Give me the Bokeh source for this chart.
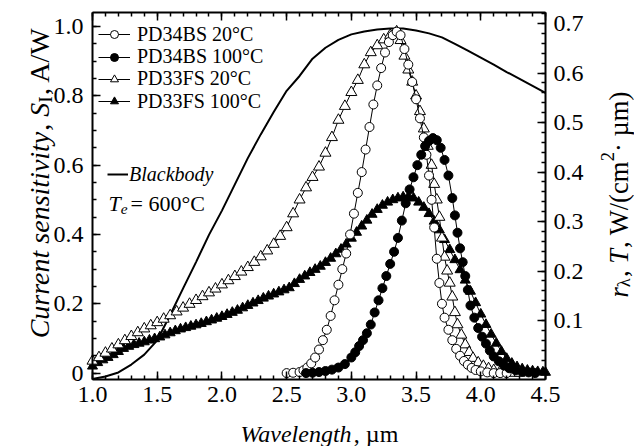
from math import pi
import numpy as np
from bokeh.plotting import figure
from bokeh.models import (Range1d, LinearAxis, FixedTicker, Label, Legend, LegendItem,
                          PrintfTickFormatter)
from bokeh.embed import file_html
from bokeh.resources import INLINE

# ---------------- data ----------------
x_ticks = [1.0, 1.5, 2.0, 2.5, 3.0, 3.5, 4.0, 4.5]
y_left_ticks = [0.0, 0.2, 0.4, 0.6, 0.8, 1.0]
y_right_ticks = [0.1, 0.2, 0.3, 0.4, 0.5, 0.6, 0.7]

# PD34BS 20 C (open circles)
bs20_x = [2.50, 2.55, 2.60, 2.63, 2.66, 2.69, 2.72, 2.75, 2.78, 2.81, 2.84, 2.87, 2.90, 2.93, 2.96,
          2.99, 3.02, 3.05, 3.08, 3.11, 3.14, 3.17, 3.20, 3.23, 3.26, 3.29, 3.32, 3.35, 3.38, 3.41,
          3.44, 3.47, 3.50, 3.53, 3.56, 3.58, 3.60, 3.62, 3.64, 3.66, 3.68, 3.70, 3.72, 3.75, 3.78,
          3.81, 3.84, 3.87, 3.90, 3.93, 3.96, 4.00, 4.05, 4.10, 4.15, 4.20]
bs20_y = [0.000, 0.001, 0.003, 0.008, 0.016, 0.028, 0.045, 0.068, 0.095, 0.125, 0.165, 0.210, 0.255, 0.300, 0.345,
          0.400, 0.460, 0.520, 0.580, 0.645, 0.710, 0.775, 0.830, 0.880, 0.925, 0.955, 0.975, 0.985, 0.975, 0.935,
          0.890, 0.840, 0.790, 0.735, 0.680, 0.630, 0.570, 0.500, 0.420, 0.330, 0.260, 0.200, 0.160, 0.125, 0.095,
          0.070, 0.050, 0.035, 0.024, 0.015, 0.009, 0.005, 0.002, 0.000, 0.000, 0.000]

# PD34BS 100 C (filled circles)
bs100_x = [2.65, 2.70, 2.75, 2.80, 2.85, 2.90, 2.95, 3.00, 3.03, 3.06, 3.09, 3.12, 3.15, 3.18, 3.21,
           3.24, 3.27, 3.30, 3.33, 3.36, 3.39, 3.42, 3.45, 3.48, 3.51, 3.54, 3.57, 3.60, 3.63, 3.66,
           3.69, 3.72, 3.75, 3.78, 3.80, 3.82, 3.84, 3.86, 3.88, 3.90, 3.92, 3.95, 3.98, 4.01, 4.04,
           4.07, 4.10, 4.14, 4.18, 4.22, 4.27, 4.32, 4.37, 4.42]
bs100_y = [0.000, 0.001, 0.003, 0.006, 0.010, 0.016, 0.026, 0.045, 0.060, 0.078, 0.095, 0.115, 0.140, 0.175, 0.210,
           0.245, 0.280, 0.315, 0.350, 0.390, 0.440, 0.490, 0.530, 0.565, 0.600, 0.630, 0.655, 0.670, 0.678, 0.672,
           0.650, 0.615, 0.570, 0.505, 0.455, 0.405, 0.360, 0.320, 0.280, 0.240, 0.195, 0.160, 0.130, 0.105, 0.085,
           0.065, 0.048, 0.034, 0.022, 0.014, 0.008, 0.004, 0.002, 0.000]

# PD33FS 20 C (open triangles)
fs20_x = [1.00, 1.05, 1.10, 1.15, 1.20, 1.25, 1.30, 1.35, 1.40, 1.45, 1.50, 1.55, 1.60, 1.65, 1.70,
          1.75, 1.80, 1.85, 1.90, 1.95, 2.00, 2.05, 2.10, 2.15, 2.20, 2.25, 2.30, 2.35, 2.40, 2.45,
          2.50, 2.55, 2.60, 2.65, 2.70, 2.75, 2.80, 2.85, 2.90, 2.95, 3.00, 3.05, 3.10, 3.15, 3.20,
          3.25, 3.30, 3.35, 3.38, 3.41, 3.44, 3.47, 3.50, 3.53, 3.56, 3.59, 3.62, 3.64, 3.66, 3.68,
          3.70, 3.72, 3.74, 3.76, 3.78, 3.80, 3.82, 3.85, 3.88, 3.91, 3.94, 3.98, 4.02, 4.06, 4.10,
          4.15, 4.20, 4.25, 4.30]
fs20_y = [0.035, 0.045, 0.058, 0.070, 0.082, 0.094, 0.106, 0.117, 0.128, 0.137, 0.146, 0.156, 0.166, 0.177, 0.188,
          0.199, 0.210, 0.221, 0.232, 0.243, 0.255, 0.267, 0.279, 0.292, 0.305, 0.320, 0.336, 0.353, 0.372, 0.395,
          0.420, 0.460, 0.500, 0.535, 0.565, 0.595, 0.635, 0.680, 0.730, 0.770, 0.810, 0.845, 0.890, 0.925, 0.945,
          0.962, 0.975, 0.985, 0.960, 0.915, 0.875, 0.840, 0.800, 0.755, 0.705, 0.655, 0.600, 0.545, 0.500, 0.450,
          0.390, 0.335, 0.295, 0.260, 0.220, 0.175, 0.140, 0.110, 0.082, 0.060, 0.043, 0.030, 0.020, 0.013, 0.008,
          0.005, 0.002, 0.000, 0.000]

# PD33FS 100 C (filled triangles)
fs100_x = [1.00, 1.04, 1.08, 1.12, 1.16, 1.20, 1.24, 1.28, 1.32, 1.36, 1.40, 1.44, 1.48, 1.52, 1.56,
           1.60, 1.64, 1.68, 1.72, 1.76, 1.80, 1.84, 1.88, 1.92, 1.96, 2.00, 2.04, 2.08, 2.12, 2.16,
           2.20, 2.24, 2.28, 2.32, 2.36, 2.40, 2.44, 2.48, 2.52, 2.56, 2.60, 2.64, 2.68, 2.72, 2.76,
           2.80, 2.84, 2.88, 2.92, 2.96, 3.00, 3.04, 3.08, 3.12, 3.16, 3.20, 3.24, 3.28, 3.32, 3.36,
           3.40, 3.44, 3.48, 3.52, 3.56, 3.60, 3.64, 3.68, 3.72, 3.76, 3.80, 3.84, 3.88, 3.92, 3.96,
           4.00, 4.04, 4.08, 4.12, 4.16, 4.20, 4.24, 4.28, 4.32, 4.36, 4.40, 4.44, 4.48, 4.50]
fs100_y = [0.020, 0.030, 0.038, 0.045, 0.053, 0.062, 0.071, 0.077, 0.082, 0.086, 0.090, 0.095, 0.099, 0.104, 0.110,
           0.116, 0.122, 0.127, 0.131, 0.135, 0.139, 0.143, 0.148, 0.153, 0.158, 0.163, 0.169, 0.175, 0.181, 0.188,
           0.195, 0.202, 0.209, 0.216, 0.222, 0.228, 0.234, 0.240, 0.246, 0.258, 0.270, 0.280, 0.290, 0.299, 0.308,
           0.319, 0.331, 0.344, 0.357, 0.372, 0.389, 0.406, 0.424, 0.441, 0.458, 0.472, 0.484, 0.493, 0.500, 0.505,
           0.508, 0.509, 0.505, 0.493, 0.478, 0.460, 0.438, 0.413, 0.385, 0.356, 0.327, 0.298, 0.268, 0.236, 0.203,
           0.170, 0.140, 0.112, 0.086, 0.062, 0.042, 0.028, 0.018, 0.012, 0.008, 0.006, 0.004, 0.003, 0.002]

# Blackbody, Te = 600 C (right axis)
bb_x = [1.0, 1.1, 1.2, 1.3, 1.4, 1.5, 1.6, 1.7, 1.8, 1.9, 2.0, 2.1, 2.2, 2.3, 2.4, 2.5, 2.6, 2.7,
        2.8, 2.9, 3.0, 3.1, 3.2, 3.3, 3.4, 3.5, 3.6, 3.7, 3.8, 3.9, 4.0, 4.1, 4.2, 4.3, 4.4, 4.5]
bb_y = [-0.018, -0.013, -0.005, 0.011, 0.031, 0.060, 0.111, 0.165, 0.218, 0.273, 0.322, 0.375, 0.428,
        0.476, 0.521, 0.564, 0.594, 0.629, 0.651, 0.667, 0.678, 0.684, 0.688, 0.690, 0.690, 0.686,
        0.680, 0.672, 0.659, 0.645, 0.631, 0.617, 0.602, 0.588, 0.574, 0.560]

# ---------------- layout (picture pixels) ----------------
W, H = 634, 446            # figure fills the window
PX_L, PX_R = 92, 545       # x of 1.0 and 4.5
PY_S0, PY_S1 = 372.6, 26   # y of S=0 and S=1
PY_R07, R_PX = 23, 495     # y of r=0.7, pixels per unit (right)
BOX_T, BOX_B = 12, 379     # box top / bottom

kx = 3.5 / (PX_R - PX_L)
ky = 1.0 / (PY_S0 - PY_S1)
kr = 1.0 / R_PX
x_start = 1.0 - PX_L * kx
x_end = 4.5 + (W - PX_R) * kx
y_start = -(H - PY_S0) * ky
y_end = 1.0 + PY_S1 * ky
r_start = 0.7 - (H - PY_R07) * kr
r_end = 0.7 + PY_R07 * kr
s_bot = (PY_S0 - BOX_B) * ky
s_top = (PY_S0 - BOX_T) * ky
r_bot = 0.7 - (BOX_B - PY_R07) * kr
r_top = 0.7 + (PY_R07 - BOX_T) * kr

FONT = "Liberation Serif"
TICK_FS = "24px"

p = figure(width=W, height=H, x_range=Range1d(x_start, x_end), y_range=Range1d(y_start, y_end),
           output_backend="svg", toolbar_location=None, min_border=0,
           x_axis_location=None, y_axis_location=None)
p.extra_y_ranges = {"bb": Range1d(r_start, r_end)}
p.grid.visible = False
p.outline_line_color = None
p.background_fill_color = "white"
p.border_fill_color = "white"


def make_axis(ticker, fixed, bounds, standoff, fmt=None, y_range_name="default", show_labels=True):
    ax = LinearAxis(ticker=ticker, fixed_location=fixed, bounds=bounds, y_range_name=y_range_name)
    ax.axis_line_width = 2
    ax.axis_line_color = "black"
    ax.major_tick_in = 8
    ax.major_tick_out = 0
    ax.minor_tick_in = 4
    ax.minor_tick_out = 0
    ax.major_tick_line_width = 1.5
    ax.minor_tick_line_width = 1.5
    ax.major_tick_line_color = "black"
    ax.minor_tick_line_color = "black"
    ax.major_label_text_font = FONT
    ax.major_label_text_font_size = TICK_FS
    ax.major_label_text_color = "black"
    ax.major_label_standoff = standoff
    ax.axis_label = None
    if fmt is not None:
        ax.formatter = fmt
    if not show_labels:
        ax.major_label_text_alpha = 0
    return ax


x_minor = [round(v, 2) for v in np.arange(1.0, 4.501, 0.1)]
yl_minor = [round(v, 2) for v in np.arange(0.0, 1.001, 0.05)]
yr_minor = [round(v, 2) for v in np.arange(0.0, 0.721, 0.02)]

ax_b = make_axis(FixedTicker(ticks=x_ticks, minor_ticks=x_minor), s_bot, (1.0, 4.5), 7,
                 PrintfTickFormatter(format="%.1f"))
p.add_layout(ax_b, "below")
ax_t = make_axis(FixedTicker(ticks=x_ticks, minor_ticks=x_minor), s_top, (1.0, 4.5), 4,
                 show_labels=False)
p.add_layout(ax_t, "above")
ax_l = make_axis(FixedTicker(ticks=y_left_ticks, minor_ticks=yl_minor), 1.0, (s_bot, s_top), 9,
                 PrintfTickFormatter(format="%.1f"))
ax_l.major_label_overrides = {0: "0"}
p.add_layout(ax_l, "left")
ax_r = make_axis(FixedTicker(ticks=y_right_ticks, minor_ticks=yr_minor), 4.5, (r_bot, r_top), 8,
                 PrintfTickFormatter(format="%.1f"), y_range_name="bb")
p.add_layout(ax_r, "right")

# ---------------- glyphs ----------------
bb = p.line(bb_x, bb_y, y_range_name="bb", line_color="black", line_width=2)

l_fs100 = p.line(fs100_x, fs100_y, line_color="black", line_width=1)
s_fs100 = p.scatter(fs100_x, fs100_y, marker="triangle", size=10, fill_color="black", line_color="black")
l_fs20 = p.line(fs20_x, fs20_y, line_color="black", line_width=1)
s_fs20 = p.scatter(fs20_x, fs20_y, marker="triangle", size=11, fill_color="white", line_color="black")
l_bs20 = p.line(bs20_x, bs20_y, line_color="black", line_width=1)
s_bs20 = p.scatter(bs20_x, bs20_y, marker="circle", size=9, fill_color="white", line_color="black")
l_bs100 = p.line(bs100_x, bs100_y, line_color="black", line_width=1)
s_bs100 = p.scatter(bs100_x, bs100_y, marker="circle", size=9, fill_color="black", line_color="black")

LEG_FS = "20px"
ROW_H = 25.5        # legend row height at this font size


def add_legend(label, renderers, x_left, y_centre, glyph_w, standoff, style="normal"):
    leg = Legend(items=[LegendItem(label=label, renderers=renderers)],
                 location=(x_left, H - (y_centre + ROW_H / 2)), padding=0, margin=0, spacing=0,
                 glyph_width=glyph_w, glyph_height=20, label_height=20, label_standoff=standoff,
                 label_text_font=FONT, label_text_font_size=LEG_FS, label_text_font_style=style,
                 label_text_color="black", border_line_color=None, background_fill_alpha=0)
    p.add_layout(leg)


add_legend("PD34BS 20°C", [l_bs20, s_bs20], 98, 33, 32, 7)
add_legend("PD34BS 100°C", [l_bs100, s_bs100], 98, 55.3, 32, 7)
add_legend("PD33FS 20°C", [l_fs20, s_fs20], 98, 77.6, 32, 7)
add_legend("PD33FS 100°C", [l_fs100, s_fs100], 98, 99.9, 32, 7)
add_legend("Blackbody", [bb], 107, 173, 21, 1, style="italic")

# ---------------- rich text labels ----------------
REG = {' ': 250, ',': 250, '.': 250, '/': 278, '(': 333, ')': 333, '=': 564, '°': 400, '·': 250,
       'A': 722, 'C': 667, 'I': 333, 'T': 611, 'W': 944, 'c': 444, 'm': 778, 'µ': 500, 'λ': 500}
for d in "0123456789":
    REG[d] = 500
ITA = {' ': 250, 'C': 667, 'S': 500, 'T': 556, 'W': 833, 'B': 611, 'a': 500, 'b': 500, 'c': 444,
       'd': 500, 'e': 444, 'g': 500, 'h': 500, 'i': 278, 'k': 444, 'l': 278, 'n': 500, 'o': 500,
       'r': 389, 's': 389, 't': 278, 'u': 500, 'v': 444, 'y': 444}


def tw(s, italic, size):
    tab = ITA if italic else REG
    return sum(tab.get(ch, 500) for ch in s) / 1000.0 * size


def total(pieces, size):
    return sum(tw(t, it, size * sc) + gap for t, it, sc, sh, gap in pieces)


def rich(pieces, px, py, size, vertical=False, center=True):
    """px, py: picture coords of baseline start (or centre along text if center=True)."""
    tot = total(pieces, size)
    fx = px
    fy = H - py
    if center:
        if vertical:
            fy -= tot / 2
        else:
            fx -= tot / 2
    pos = 0.0
    for text, italic, scale, shift, gap in pieces:
        pos += gap
        fs = size * scale
        if vertical:
            lab = Label(x=fx + shift * size, y=fy + pos, angle=pi / 2)
        else:
            lab = Label(x=fx + pos, y=fy - shift * size)
        lab.x_units = "screen"
        lab.y_units = "screen"
        lab.text = text
        lab.text_font = FONT
        lab.text_font_size = f"{fs:.1f}px"
        lab.text_font_style = "italic" if italic else "normal"
        lab.text_color = "black"
        lab.text_align = "left"
        lab.text_baseline = "alphabetic"
        p.add_layout(lab)
        pos += tw(text, italic, fs)


left_pieces = [("Current sensitivity", True, 1, 0, 0), (", ", False, 1, 0, 0), ("S", True, 1, 0, 0),
               ("I", False, 0.7, 0.2, 0), (", A/W", False, 1, 0, 1)]
rich(left_pieces, 39, 182, 28, vertical=True)

right_pieces = [("r", True, 1, 0, 0), ("λ", False, 0.7, 0.2, 0), (", ", False, 1, 0, 1),
                ("T", True, 1, 0, 0), (", W/(cm", False, 1, 0, 1), ("2", False, 0.7, -0.4, 0),
                (" · µm)", False, 1, 0, 0)]
rich(right_pieces, 618, 193, 26.5, vertical=True)

bottom_pieces = [("Wavelength", True, 1, 0, 0), (", µm", False, 1, 0, 0)]
rich(bottom_pieces, 318, 433, 24)

te_pieces = [("T", True, 1, 0, 0), ("e", True, 0.7, 0.25, 0), (" = 600°C", False, 1, 0, 3)]
rich(te_pieces, 108, 203, 22, center=False)

open("out.html", "w").write(file_html(p, INLINE))
